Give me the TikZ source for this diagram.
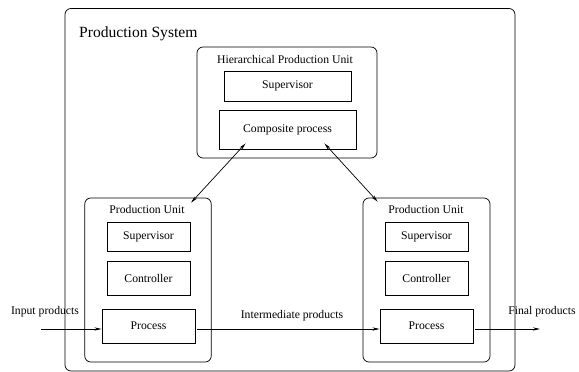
\documentclass[tikz,border=0pt]{standalone}
\usepackage{fontspec}
\setmainfont{Liberation Serif}
\usetikzlibrary{calc,arrows.meta}
\begin{document}
\begin{tikzpicture}[x=1pt,y=-1pt,
  every node/.style={font=\fontsize{11.7}{14}\selectfont},
  unitbox/.style={draw, line width=0.7pt, rounded corners=6pt, inner sep=0pt},
  partbox/.style={draw, line width=0.9pt, inner sep=0pt},
  lbl/.style={inner sep=0pt},
  flow/.style={line width=0.7pt, -{Stealth[length=7pt,width=3.2pt]}},
  link/.style={line width=0.7pt, {Stealth[length=7pt,width=3.2pt]}-{Stealth[length=7pt,width=3.2pt]}}]
\useasboundingbox (0,0) rectangle (579,372);

% production system frame
\node[unitbox, minimum width=450pt, minimum height=362.5pt] (sys) at (290,189.75) {};
\node[lbl, anchor=base west, font=\fontsize{15.6}{18}\selectfont] (title) at (79,37.7) {Production System};

% hierarchical production unit
\node[unitbox, minimum width=180pt, minimum height=111pt] (hpu) at (287,102.5) {};
\node[lbl] (hpulbl) at (285,59) {Hierarchical Production Unit};
\node[partbox, minimum width=127pt, minimum height=30pt] (hsup) at (287.5,86) {Supervisor};
\node[partbox, minimum width=137pt, minimum height=39pt] (comp) at (287.5,129.5) {Composite process};

% left production unit
\node[unitbox, minimum width=126.5pt, minimum height=164pt] (pu1) at (148,280) {};
\node[lbl] (pu1lbl) at (147,209) {Production Unit};
\node[partbox, minimum width=83pt, minimum height=29pt] (sup1) at (148.5,236.5) {Supervisor};
\node[partbox, minimum width=83pt, minimum height=34pt] (ctl1) at (148.5,278) {Controller};
\node[partbox, minimum width=93pt, minimum height=34pt] (proc1) at (148.5,326) {Process};

% right production unit
\node[unitbox, minimum width=127pt, minimum height=164pt] (pu2) at (426.5,280) {};
\node[lbl] (pu2lbl) at (426,209) {Production Unit};
\node[partbox, minimum width=83pt, minimum height=29pt] (sup2) at (426.5,236.5) {Supervisor};
\node[partbox, minimum width=83pt, minimum height=34pt] (ctl2) at (426.5,278) {Controller};
\node[partbox, minimum width=93pt, minimum height=34pt] (proc2) at (426.5,326) {Process};

% product flow
\coordinate (src) at (41,329);
\coordinate (sink) at (540,329);
\draw[flow] (src) -- (src -| proc1.west);
\draw[flow] ($(proc1.east)+(2,3)$) -- ($(proc2.west)+(0,3)$);
\draw[flow] ($(proc2.east)+(2,3)$) -- (sink);
\node[lbl] (inlbl) at (45,312) {Input products};
\node[lbl] (midlbl) at (292,316) {Intermediate products};
\node[lbl] (outlbl) at (542,312) {Final products};

% coordination links
\draw[link] ($(comp.south west)+(27,-6)$) -- ($(pu1.north east)+(-20.5,5)$);
\draw[link] ($(comp.south east)+(-32,-6)$) -- ($(pu2.north west)+(15,4)$);
\end{tikzpicture}
\end{document}
